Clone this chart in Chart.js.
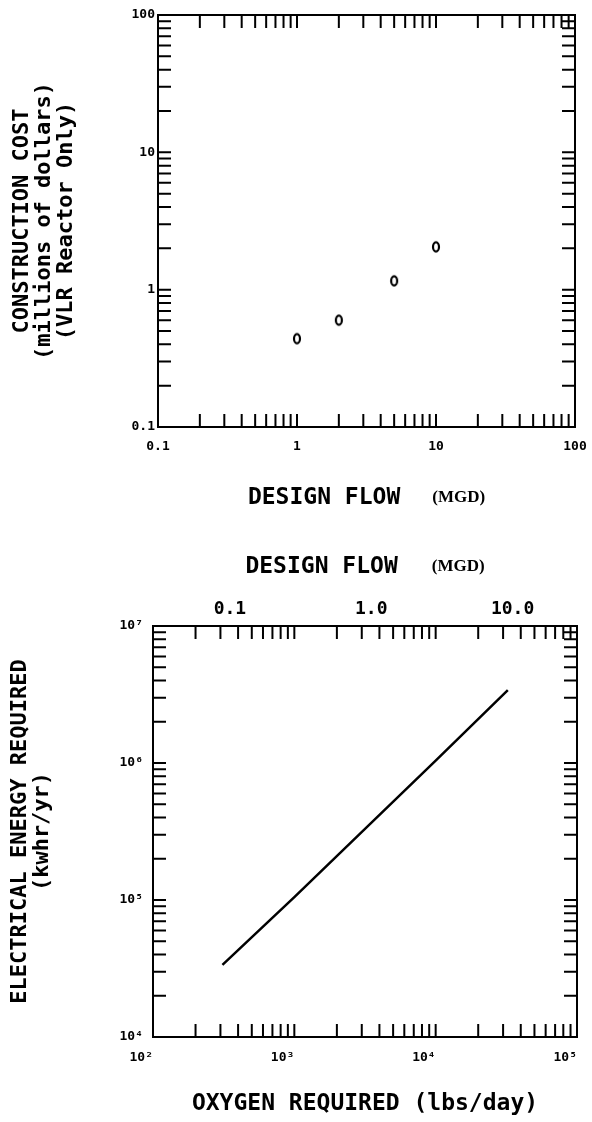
<!DOCTYPE html>
<html>
<head>
<meta charset="utf-8">
<script src="https://cdn.jsdelivr.net/npm/chart.js@4.4.0/dist/chart.umd.min.js"></script>
<style>
  body { margin: 0; background: #fff; }
  #wrap { position: relative; width: 592px; height: 1122px; }
  canvas { position: absolute; left: 0; }
  #costChart { top: 0; }
  #energyChart { top: 520px; }
</style>
</head>
<body>
<div id="wrap">
  <canvas id="costChart" width="592" height="520"></canvas>
  <canvas id="energyChart" width="592" height="602"></canvas>
</div>
<script>
// top plot: construction cost vs design flow
const designFlow = [1, 2, 5, 10];
const constructionCost = [0.44, 0.60, 1.16, 2.05];
const flowTicks = [0.1, 1, 10, 100];
const flowTickLabels = ['0.1', '1', '10', '100'];
const costTicks = [0.1, 1, 10, 100];
const costTickLabels = ['0.1', '1', '10', '100'];

// bottom plot: electrical energy vs oxygen required
const oxygenRequired = [310, 1000, 10000, 32400];
const electricalEnergy = [33600, 105000, 1040000, 3400000];
const oxygenTicks = [1e2, 1e3, 1e4, 1e5];
const oxygenTickLabels = ['10²', '10³', '10⁴', '10⁵'];
const energyTicks = [1e4, 1e5, 1e6, 1e7];
const energyTickLabels = ['10⁴', '10⁵', '10⁶', '10⁷'];
const mgdTicks = [0.1, 1, 10];
const mgdTickLabels = ['0.1', '1.0', '10.0'];
const lbsPerMgd = 3500;   // oxygen lbs/day per MGD (top axis)

const MONO = 'DejaVu Sans Mono';
Chart.defaults.font.family = MONO;
Chart.defaults.color = '#000';

// size: fixed width (vertical) or height (horizontal) of the axis box
function logAxis(position, min, max, vals, labels, fontSize, pad, size) {
  const vertical = position === 'left' || position === 'right';
  return {
    type: 'logarithmic',
    position: position,
    min: min,
    max: max,
    grid: { display: false, drawTicks: false },
    border: { display: false },
    afterBuildTicks: s => { s.ticks = vals.map(v => ({ value: v })); },
    afterFit: s => {
      if (vertical) s.width = size; else s.height = size;
      s.paddingLeft = s.paddingRight = s.paddingTop = s.paddingBottom = 0;
    },
    ticks: {
      autoSkip: false,
      maxRotation: 0,
      padding: pad,
      font: { size: fontSize, weight: 'bold' },
      callback: (v, i) => labels[i]
    }
  };
}

// minor log marks 1..9 x 10^n inside the scale range
function logMarks(scale) {
  const out = [];
  const lo = Math.floor(Math.log10(scale.min));
  const hi = Math.ceil(Math.log10(scale.max));
  for (let e = lo; e <= hi; e++) {
    for (let k = 1; k <= 9; k++) {
      const v = k * Math.pow(10, e);
      if (v > scale.min * 1.001 && v < scale.max * 0.999) out.push(scale.getPixelForValue(v));
    }
  }
  return out;
}

// box round the plot with inward ticks on all 4 sides
const frameTicks = {
  id: 'frameTicks',
  afterDraw(chart, args, opts) {
    const { ctx, chartArea: a } = chart;
    const xs = logMarks(chart.scales[opts.xScale]);
    const ys = logMarks(chart.scales[opts.yScale]);
    const tl = opts.len;
    ctx.save();
    ctx.strokeStyle = '#000';
    ctx.lineWidth = 2;
    ctx.beginPath();
    xs.forEach(x => {
      ctx.moveTo(x, a.bottom); ctx.lineTo(x, a.bottom - tl);
      ctx.moveTo(x, a.top); ctx.lineTo(x, a.top + tl);
    });
    ys.forEach(y => {
      ctx.moveTo(a.left, y); ctx.lineTo(a.left + tl, y);
      ctx.moveTo(a.right, y); ctx.lineTo(a.right - tl, y);
    });
    ctx.stroke();
    ctx.strokeRect(a.left, a.top, a.right - a.left, a.bottom - a.top);
    ctx.restore();
  }
};

// axis titles (mixed fonts, so drawn here)
const axisText = {
  id: 'axisText',
  afterDraw(chart, args, opts) {
    const { ctx, chartArea: a } = chart;
    const cx = (a.left + a.right) / 2;
    const cy = (a.top + a.bottom) / 2;
    ctx.save();
    ctx.fillStyle = '#000';
    ctx.textBaseline = 'middle';
    ctx.textAlign = 'left';
    (opts.rows || []).forEach(r => {
      let total = 0;
      const widths = r.parts.map(p => { ctx.font = p.font; const w = ctx.measureText(p.text).width; total += w; return w; });
      total += r.gap * (r.parts.length - 1);
      let x = cx - total / 2;
      r.parts.forEach((p, i) => {
        ctx.font = p.font;
        ctx.fillText(p.text, x, r.y);
        x += widths[i] + r.gap;
      });
    });
    ctx.textAlign = 'center';
    ctx.font = opts.yFont;
    (opts.yLines || []).forEach((line, i) => {
      ctx.save();
      ctx.translate(opts.yX[i], cy);
      ctx.rotate(-Math.PI / 2);
      ctx.fillText(line, 0, 0);
      ctx.restore();
    });
    ctx.restore();
  }
};

const titleFont = 'bold 23px ' + MONO;
const mgdFont = 'bold 17px "Liberation Serif"';

// little "0" marks like the plotter used
const ringMark = document.createElement('canvas');
ringMark.width = 10;
ringMark.height = 14;
const rc = ringMark.getContext('2d');
rc.lineWidth = 2.2;
rc.strokeStyle = '#000';
rc.beginPath();
rc.ellipse(5, 7, 3, 4.6, 0, 0, 2 * Math.PI);
rc.stroke();

new Chart('costChart', {
  type: 'scatter',
  data: {
    datasets: [{
      data: designFlow.map((f, i) => ({ x: f, y: constructionCost[i] })),
      pointStyle: ringMark,
      pointRadius: 5
    }]
  },
  options: {
    responsive: false,
    animation: false,
    layout: { padding: { top: 15, right: 17, left: 0, bottom: 0 } },
    scales: {
      x: logAxis('bottom', 0.1, 100, flowTicks, flowTickLabels, 13, 12, 93),
      y: logAxis('left', 0.1, 100, costTicks, costTickLabels, 13, 3, 158)
    },
    plugins: {
      legend: { display: false },
      tooltip: { enabled: false },
      frameTicks: { xScale: 'x', yScale: 'y', len: 13 },
      axisText: {
        rows: [{ y: 498, gap: 32, parts: [{ text: 'DESIGN FLOW', font: titleFont }, { text: '(MGD)', font: mgdFont }] }],
        yLines: ['CONSTRUCTION COST', '(millions of dollars)', '(VLR Reactor Only)'],
        yX: [22, 44, 66],
        yFont: 'bold 22px ' + MONO
      }
    }
  },
  plugins: [frameTicks, axisText]
});

const energyX = logAxis('bottom', 1e2, 1e5, oxygenTicks, oxygenTickLabels, 13, 13, 85);
energyX.ticks.align = 'end';
const energyY = logAxis('left', 1e4, 1e7, energyTicks, energyTickLabels, 13, 10, 153);
const mgdAxis = logAxis('top', 1e2 / lbsPerMgd, 1e5 / lbsPerMgd, mgdTicks, mgdTickLabels, 18, 6, 106);

new Chart('energyChart', {
  type: 'scatter',
  data: {
    datasets: [{
      data: oxygenRequired.map((o, i) => ({ x: o, y: electricalEnergy[i] })),
      showLine: true,
      borderColor: '#000',
      borderWidth: 2.5,
      pointRadius: 0,
      xAxisID: 'x',
      yAxisID: 'y'
    }]
  },
  options: {
    responsive: false,
    animation: false,
    layout: { padding: { top: 0, right: 15, left: 0, bottom: 0 } },
    scales: { x: energyX, x2: mgdAxis, y: energyY },
    plugins: {
      legend: { display: false },
      tooltip: { enabled: false },
      frameTicks: { xScale: 'x', yScale: 'y', len: 13 },
      axisText: {
        rows: [
          { y: 47, gap: 34, parts: [{ text: 'DESIGN FLOW', font: titleFont }, { text: '(MGD)', font: mgdFont }] },
          { y: 584, gap: 0, parts: [{ text: 'OXYGEN REQUIRED (lbs/day)', font: titleFont }] }
        ],
        yLines: ['ELECTRICAL ENERGY REQUIRED', '(kwhr/yr)'],
        yX: [20, 42],
        yFont: 'bold 22px ' + MONO
      }
    }
  },
  plugins: [frameTicks, axisText]
});
</script>
</body>
</html>
